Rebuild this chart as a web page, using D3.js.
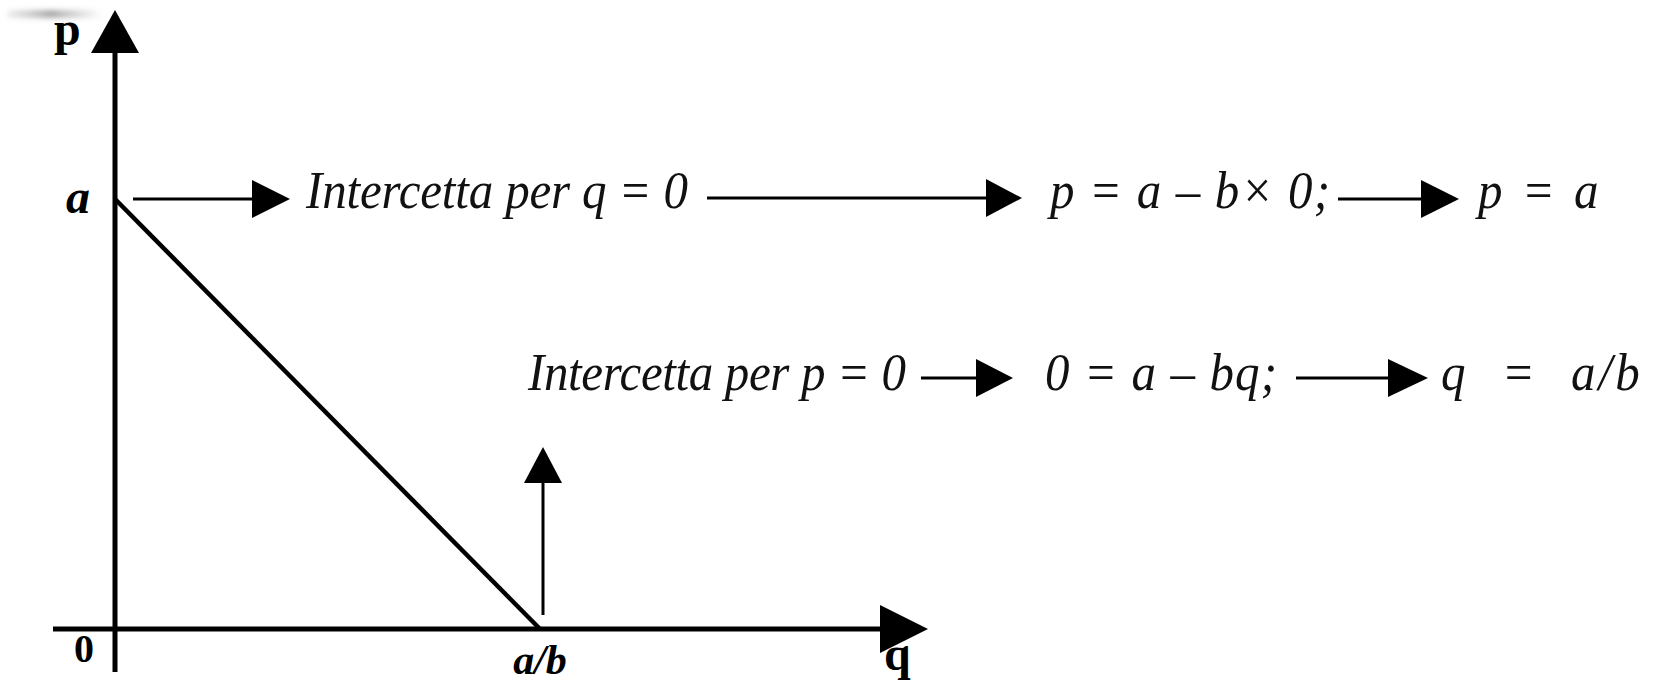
<!DOCTYPE html>
<html>
<head>
<meta charset="utf-8">
<script src="https://cdn.jsdelivr.net/npm/d3@7"></script>
<style>
  html, body { margin: 0; padding: 0; background: #fff; }
  svg { display: block; }
</style>
</head>
<body>
<svg id="chart" width="1655" height="682"></svg>
<script>
// ---- data ----
const demandPoints = [ { q: 0, p: 1 }, { q: 1, p: 0 } ];   // p = a - b q, with a = 1, a/b = 1
const axisNames = ["p", "q"];
const originLabel = ["0"];
const interceptLabels = ["a", "a/b"];
const row1Texts = ["Intercetta per q = 0", "p = a – b× 0;", "p = a"];
const row2Texts = ["Intercetta per p = 0", "0 = a – bq;", "q = a/b"];

// ---- scales ----
const x = d3.scaleLinear().domain([0, 1]).range([115, 540]);
const y = d3.scaleLinear().domain([0, 1]).range([629, 199]);

const svg = d3.select("#chart");

// faint smudge top-left
const defs = svg.append("defs");
const g1 = defs.append("linearGradient").attr("id", "smudge").attr("x1", 0).attr("x2", 1);
g1.append("stop").attr("offset", "0%").attr("stop-color", "#888").attr("stop-opacity", 0.15);
g1.append("stop").attr("offset", "45%").attr("stop-color", "#555").attr("stop-opacity", 0.5);
g1.append("stop").attr("offset", "100%").attr("stop-color", "#777").attr("stop-opacity", 0);
const fb = defs.append("filter").attr("id", "blur").attr("x", "-20%").attr("y", "-100%").attr("width", "140%").attr("height", "300%");
fb.append("feGaussianBlur").attr("stdDeviation", 2.5);
svg.append("rect").attr("x", 8).attr("y", 10).attr("width", 95).attr("height", 8)
  .attr("fill", "url(#smudge)").attr("filter", "url(#blur)");

const black = "#000";

function arrowHead(g, tipX, tipY, dir, len, half) {
  let pts;
  if (dir === "right") pts = [[tipX, tipY], [tipX - len, tipY - half], [tipX - len, tipY + half]];
  else if (dir === "up") pts = [[tipX, tipY], [tipX - half, tipY + len], [tipX + half, tipY + len]];
  g.append("path").attr("d", d3.line()(pts) + "Z").attr("fill", black);
}

function hArrow(x1, x2, yy, len, half, sw) {
  svg.append("line").attr("x1", x1).attr("x2", x2 - len + 2).attr("y1", yy).attr("y2", yy)
    .attr("stroke", black).attr("stroke-width", sw);
  arrowHead(svg, x2, yy, "right", len, half);
}

// ---- axes ----
const xAxisLeft = x.invert(53), xAxisTip = x.invert(928);
svg.append("line").attr("x1", x(xAxisLeft)).attr("x2", x(xAxisTip) - 40)
  .attr("y1", y(0)).attr("y2", y(0)).attr("stroke", black).attr("stroke-width", 5);
arrowHead(svg, x(xAxisTip), y(0), "right", 48, 24);

const yAxisBottom = y.invert(672), yAxisTip = y.invert(10);
svg.append("line").attr("x1", x(0)).attr("x2", x(0))
  .attr("y1", y(yAxisBottom)).attr("y2", y(yAxisTip) + 36)
  .attr("stroke", black).attr("stroke-width", 5);
arrowHead(svg, x(0), y(yAxisTip), "up", 43, 24);

// demand line
svg.append("path").datum(demandPoints)
  .attr("d", d3.line().x(d => x(d.q)).y(d => y(d.p)))
  .attr("fill", "none").attr("stroke", black).attr("stroke-width", 4.5);

// ---- axis labels ----
svg.append("text").text(axisNames[0]).attr("x", 54).attr("y", 45)
  .attr("font-family", "Liberation Serif").attr("font-weight", "bold").attr("font-size", 48).attr("fill", black);
svg.append("text").text(axisNames[1]).attr("x", 884).attr("y", 670)
  .attr("font-family", "Liberation Serif").attr("font-weight", "bold").attr("font-size", 48).attr("fill", black);
svg.append("text").text(originLabel[0]).attr("x", 74).attr("y", 662)
  .attr("font-family", "Liberation Serif").attr("font-weight", "bold").attr("font-size", 40).attr("fill", black);

svg.append("text").text(interceptLabels[0]).attr("x", 66).attr("y", 213)
  .attr("font-family", "Liberation Serif").attr("font-weight", "bold").attr("font-style", "italic")
  .attr("font-size", 48).attr("fill", black);
svg.append("text").text(interceptLabels[1]).attr("x", x(1)).attr("y", 674)
  .attr("text-anchor", "middle")
  .attr("font-family", "Liberation Serif").attr("font-weight", "bold").attr("font-style", "italic")
  .attr("font-size", 42).attr("fill", black);

// ---- annotations ----
const tf = "Liberation Serif";
function rowText(str, xx, yy, width, wordSp, letterSp) {
  const t = svg.append("text").text(str)
    .attr("transform", `translate(${xx},${yy}) scale(1,1.08)`)
    .attr("font-family", tf).attr("font-style", "italic").attr("font-size", 49).attr("fill", "#111");
  if (width) t.attr("textLength", width).attr("lengthAdjust", "spacing");
  if (wordSp) t.attr("word-spacing", wordSp);
  if (letterSp) t.attr("letter-spacing", letterSp);
}

// row 1
hArrow(133, 290, y(1), 38, 19, 3);
rowText(row1Texts[0], 306, 208, 382);
hArrow(707, 1022, 198, 36, 19, 3);
rowText(row1Texts[1], 1050, 208, 280);
hArrow(1338, 1459, 199, 38, 19, 3);
rowText(row1Texts[2], 1478, 208, null, 7, 0);

// row 2
const r2y = 378, r2b = 390;
rowText(row2Texts[0], 528, r2b, 378);
hArrow(921, 1013, r2y, 37, 19, 3);
rowText(row2Texts[1], 1045, r2b, 232);
hArrow(1296, 1428, r2y, 40, 19, 3);
rowText(row2Texts[2], 1441, r2b, null, 18, 3);

// vertical arrow at a/b
svg.append("line").attr("x1", x(1) + 3).attr("x2", x(1) + 3).attr("y1", 615).attr("y2", 480)
  .attr("stroke", black).attr("stroke-width", 3);
arrowHead(svg, x(1) + 3, 447, "up", 36, 19);
</script>
</body>
</html>
